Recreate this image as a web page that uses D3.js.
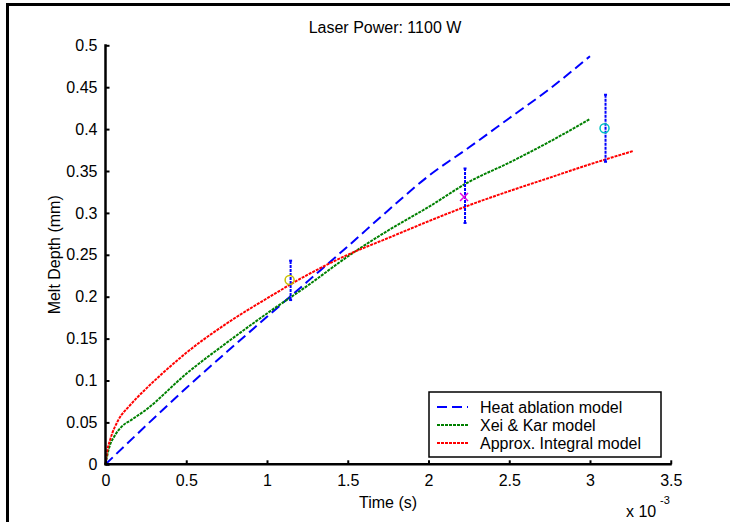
<!DOCTYPE html>
<html><head><meta charset="utf-8">
<script src="https://cdn.jsdelivr.net/npm/d3@7"></script>
<style>html,body{margin:0;padding:0;background:#fff}</style>
</head><body>
<svg id="c" width="730" height="522"></svg>
<script>
// time in units of 1e-3 s (axis shows "x 10^-3")
const heatT = [0,0.25,0.5,0.75,1.0,1.25,1.5,1.75,2.0,2.25,2.5,2.75,3.0];
const heatD = [0,0.046,0.091,0.134,0.176,0.218,0.26,0.303,0.344,0.378,0.413,0.448,0.487];
const xeiT = [0,0.02,0.06,0.1,0.16,0.25,0.5,0.75,1.0,1.25,1.5,1.75,2.0,2.25,2.5,2.75,3.0];
const xeiD = [0,0.018,0.035,0.045,0.053,0.065,0.108,0.145,0.18,0.213,0.248,0.279,0.307,0.337,0.36,0.385,0.412];
const apxT = [0,0.01,0.03,0.08,0.15,0.25,0.35,0.5,0.75,1.0,1.25,1.5,1.75,2.0,2.25,2.5,2.75,3.0,3.27];
const apxD = [0,0.015,0.03,0.053,0.07,0.09,0.108,0.133,0.168,0.198,0.226,0.25,0.27,0.29,0.309,0.326,0.342,0.358,0.374];
const expT = [1.14,2.22,3.09];
const expD = [0.22,0.319,0.401];
const expLo = [0.196,0.288,0.361];
const expHi = [0.243,0.353,0.441];
const xTicks = [0,0.5,1,1.5,2,2.5,3,3.5];
const yTicks = [0,0.05,0.1,0.15,0.2,0.25,0.3,0.35,0.4,0.45,0.5];
const seriesNames = ["Heat ablation model","Xei & Kar model","Approx. Integral model"];

const svg = d3.select("#c");
const font = "'Liberation Sans', Arial, sans-serif";
const FS = 16;
const L=105.5, R=670.75, T=45.3, B=464.3;
const x = d3.scaleLinear().domain([0,3.5]).range([L,R]);
const y = d3.scaleLinear().domain([0,0.5]).range([B,T]);

// outer frame (top & left)
svg.append("line").attr("x1",7).attr("x2",730).attr("y1",4.5).attr("y2",4.5).attr("stroke","#000").attr("stroke-width",3);
svg.append("line").attr("x1",7.5).attr("x2",7.5).attr("y1",3).attr("y2",522).attr("stroke","#000").attr("stroke-width",3);

const line = d3.line().x(d=>x(d[0])).y(d=>y(d[1])).curve(d3.curveMonotoneX);
const zip=(a,b)=>a.map((v,i)=>[v,b[i]]);
const g = svg.append("g");
g.append("path").datum(zip(heatT,heatD)).attr("d",line).attr("fill","none").attr("stroke","#0000ff").attr("stroke-width",2).attr("stroke-dasharray","10,5");
g.append("path").datum(zip(xeiT,xeiD)).attr("d",line).attr("fill","none").attr("stroke","#008000").attr("stroke-width",2).attr("stroke-dasharray","3,1");
g.append("path").datum(zip(apxT,apxD)).attr("d",line).attr("fill","none").attr("stroke","#ff0000").attr("stroke-width",2).attr("stroke-dasharray","3,1");

// error bars
expT.forEach((t,i)=>{
  g.append("line").attr("x1",x(t)+1).attr("x2",x(t)+1).attr("y1",y(expLo[i])).attr("y2",y(expHi[i]))
   .attr("stroke","#0000ff").attr("stroke-width",2).attr("stroke-dasharray","3,1");
  [expLo[i],expHi[i]].forEach(v=>g.append("line").attr("x1",x(t)-0.5).attr("x2",x(t)+2.5).attr("y1",y(v)).attr("y2",y(v)).attr("stroke","#0000ff").attr("stroke-width",2));
});
// markers
g.append("circle").attr("cx",x(expT[0])).attr("cy",y(expD[0])).attr("r",4.5).attr("fill","none").attr("stroke","#c8c000").attr("stroke-width",1.5);
const mx=x(expT[1]), my=y(expD[1]);
g.append("path").attr("d",`M${mx-4},${my-4}L${mx+4},${my+4}M${mx-4},${my+4}L${mx+4},${my-4}`).attr("stroke","#e000e0").attr("stroke-width",1.5);
g.append("circle").attr("cx",x(expT[2])).attr("cy",y(expD[2])).attr("r",4.5).attr("fill","none").attr("stroke","#00c0c0").attr("stroke-width",1.5);

// axes
const xa = svg.append("g").attr("transform",`translate(0,${B})`)
  .call(d3.axisBottom(x).tickValues(xTicks).tickSize(-4).tickPadding(10).tickFormat(d=>String(d)));
const ya = svg.append("g").attr("transform",`translate(${L},0)`)
  .call(d3.axisLeft(y).tickValues(yTicks).tickSize(-4).tickPadding(8).tickFormat(d=>String(d)));
[xa,ya].forEach(a=>{
  a.select(".domain").attr("stroke","#000").attr("stroke-width",2.5);
  a.selectAll(".tick line").attr("stroke","#000").attr("stroke-width",2);
  a.selectAll("text").attr("font-family",font).attr("font-size",FS).attr("fill","#000");
});
xa.select(".domain").attr("d",`M${L-1},0H${R+1}`);
ya.select(".domain").attr("d",`M0,${B+1}V${T-1}`);

// texts
svg.append("text").attr("x",385).attr("y",33).attr("text-anchor","middle").attr("font-family",font).attr("font-size",FS).text("Laser Power: 1100 W");
svg.append("text").attr("x",388).attr("y",508).attr("text-anchor","middle").attr("font-family",font).attr("font-size",FS).text("Time (s)");
svg.append("text").attr("transform",`translate(60,${(T+B)/2}) rotate(-90)`).attr("text-anchor","middle").attr("font-family",font).attr("font-size",FS).text("Melt Depth (mm)");
svg.append("text").attr("x",626).attr("y",517).attr("font-family",font).attr("font-size",FS).text("x 10");
svg.append("text").attr("x",660).attr("y",504).attr("font-family",font).attr("font-size",11).text("-3");

// legend
const lg = svg.append("g");
lg.append("rect").attr("x",429).attr("y",392).attr("width",232).attr("height",65).attr("fill","#fff").attr("stroke","#000").attr("stroke-width",1.5);
const styles=[["#0000ff","10,5"],["#008000","3,1"],["#ff0000","3,1"]];
seriesNames.forEach((n,i)=>{
  const yy=407+18*i;
  lg.append("line").attr("x1",437).attr("x2",468).attr("y1",yy).attr("y2",yy).attr("stroke",styles[i][0]).attr("stroke-width",2).attr("stroke-dasharray",styles[i][1]);
  lg.append("text").attr("x",480).attr("y",yy+6).attr("font-family",font).attr("font-size",FS).text(n);
});
</script>
</body></html>
